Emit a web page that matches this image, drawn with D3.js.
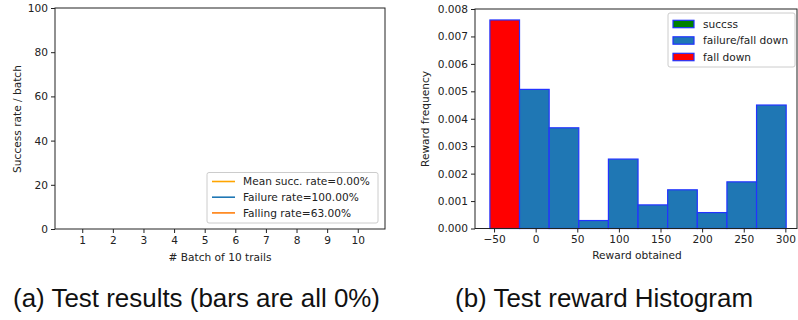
<!DOCTYPE html>
<html lang="en">
<head>
<meta charset="utf-8">
<style>
  body { margin: 0; background: #fff; }
  svg text { font-family: "DejaVu Sans", sans-serif; fill: #222; }
  .axis path, .axis line { stroke: #222; }
  .caption { font-family: "Liberation Sans", Arial, sans-serif; fill: #111; }
</style>
</head>
<body>
<svg width="798" height="320"></svg>
<script src="https://cdn.jsdelivr.net/npm/d3@7/dist/d3.min.js"></script>
<script>
// (a) test results: success rate per batch (all zero)
var batches = [1, 2, 3, 4, 5, 6, 7, 8, 9, 10];
var successRates = [0, 0, 0, 0, 0, 0, 0, 0, 0, 0];
var legendA = ["Mean succ. rate=0.00%", "Failure rate=100.00%", "Falling rate=63.00%"];
var legendAColors = ["orange", "#1f77b4", "#ff7f0e"];

// (b) reward histogram (density)
var binEdges = [-55, -19.4, 16.2, 51.8, 87.4, 123, 158.6, 194.2, 229.8, 265.4, 301];
var binFreq = [0.0076, 0.00507, 0.00367, 0.00029, 0.00253, 0.00086, 0.00141, 0.00058, 0.0017, 0.0045];
var binGroup = ["fall", "fail", "fail", "fail", "fail", "fail", "fail", "fail", "fail", "fail"];
var legendB = ["succss", "failure/fall down", "fall down"];
var legendBColors = ["green", "#1f77b4", "red"];
var xTicksB = [-50, 0, 50, 100, 150, 200, 250, 300];

var svg = d3.select("svg");
var fs = 10.6;

// ---------- panel (a) ----------
var xa = d3.scaleLinear().domain([0.11, 10.89]).range([55, 385]);
var ya = d3.scaleLinear().domain([0, 100]).range([229, 8]);
var ga = svg.append("g");

ga.selectAll(".bar").data(successRates).enter().append("rect")
    .attr("class", "bar")
    .attr("x", function (d, i) { return xa(batches[i] - 0.4); })
    .attr("width", xa(1.8) - xa(1))
    .attr("y", function (d) { return ya(d); })
    .attr("height", function (d) { return ya(0) - ya(d); })
    .attr("fill", "#1f77b4");

ga.append("g").attr("class", "axis").attr("transform", "translate(0,229)")
    .call(d3.axisBottom(xa).tickValues(batches).tickSize(4).tickPadding(3))
    .call(function (g) { g.select(".domain").remove(); })
    .selectAll("text").style("font-size", fs + "px");
ga.append("g").attr("class", "axis").attr("transform", "translate(55,0)")
    .call(d3.axisLeft(ya).tickValues([0, 20, 40, 60, 80, 100]).tickSize(4).tickPadding(3))
    .call(function (g) { g.select(".domain").remove(); })
    .selectAll("text").style("font-size", fs + "px");
ga.append("rect").attr("x", 55).attr("y", 8).attr("width", 330).attr("height", 221)
    .attr("fill", "none").attr("stroke", "#222").attr("stroke-width", 1);

ga.append("text").attr("x", 220).attr("y", 261).attr("text-anchor", "middle")
    .style("font-size", fs + "px").text("# Batch of 10 trails");
ga.append("text").attr("transform", "translate(21,119) rotate(-90)").attr("text-anchor", "middle")
    .style("font-size", fs + "px").text("Success rate / batch");

var la = ga.append("g");
la.append("rect").attr("x", 207).attr("y", 172.5).attr("width", 171).attr("height", 50.5)
    .attr("rx", 2).attr("fill", "#fff").attr("fill-opacity", 0.8).attr("stroke", "#ccc");
legendA.forEach(function (t, i) {
    var y = 181.5 + i * 15.7;
    la.append("line").attr("x1", 212).attr("x2", 235).attr("y1", y).attr("y2", y)
        .attr("stroke", legendAColors[i]).attr("stroke-width", 1.6);
    la.append("text").attr("x", 243).attr("y", y + 3.8).style("font-size", fs + "px").text(t);
});

// ---------- panel (b) ----------
var xb = d3.scaleLinear().domain([-72.9, 314]).range([475, 797]);
var yb = d3.scaleLinear().domain([0, 0.008]).range([228.5, 9]);
var gb = svg.append("g");

gb.selectAll(".hbar").data(binFreq).enter().append("rect")
    .attr("class", "hbar")
    .attr("x", function (d, i) { return xb(binEdges[i]); })
    .attr("width", function (d, i) { return xb(binEdges[i + 1]) - xb(binEdges[i]); })
    .attr("y", function (d) { return yb(d); })
    .attr("height", function (d) { return yb(0) - yb(d); })
    .attr("fill", function (d, i) { return binGroup[i] === "fall" ? "red" : "#1f77b4"; })
    .attr("stroke", "#2233ff").attr("stroke-width", 1.2);

gb.append("g").attr("class", "axis").attr("transform", "translate(0,228.5)")
    .call(d3.axisBottom(xb).tickValues(xTicksB).tickSize(4).tickPadding(3)
        .tickFormat(function (d) { return d < 0 ? "\u2212" + Math.abs(d) : d; }))
    .call(function (g) { g.select(".domain").remove(); })
    .selectAll("text").style("font-size", fs + "px");
gb.append("g").attr("class", "axis").attr("transform", "translate(475,0)")
    .call(d3.axisLeft(yb).ticks(8).tickFormat(d3.format(".3f")).tickSize(4).tickPadding(3))
    .call(function (g) { g.select(".domain").remove(); })
    .selectAll("text").style("font-size", fs + "px");
gb.append("rect").attr("x", 475).attr("y", 9).attr("width", 322).attr("height", 219.5)
    .attr("fill", "none").attr("stroke", "#222").attr("stroke-width", 1);

gb.append("text").attr("x", 637).attr("y", 259).attr("text-anchor", "middle")
    .style("font-size", fs + "px").text("Reward obtained");
gb.append("text").attr("transform", "translate(429,119) rotate(-90)").attr("text-anchor", "middle")
    .style("font-size", fs + "px").text("Reward frequency");

var lb = gb.append("g");
lb.append("rect").attr("x", 668).attr("y", 13).attr("width", 127).attr("height", 54)
    .attr("rx", 2).attr("fill", "#fff").attr("fill-opacity", 0.8).attr("stroke", "#ccc");
legendB.forEach(function (t, i) {
    var y = 24 + i * 16.5;
    lb.append("rect").attr("x", 673).attr("y", y - 3.7).attr("width", 21).attr("height", 7.4)
        .attr("fill", legendBColors[i]).attr("stroke", "#2233ff").attr("stroke-width", 1.2);
    lb.append("text").attr("x", 703).attr("y", y + 3.8).style("font-size", fs + "px").text(t);
});

// ---------- captions ----------
svg.append("text").attr("class", "caption").attr("x", 13).attr("y", 307)
    .attr("textLength", 367).attr("lengthAdjust", "spacingAndGlyphs")
    .style("font-size", "25px").text("(a) Test results (bars are all 0%)");
svg.append("text").attr("class", "caption").attr("x", 455).attr("y", 307)
    .attr("textLength", 298).attr("lengthAdjust", "spacingAndGlyphs")
    .style("font-size", "25px").text("(b) Test reward Histogram");
</script>
</body>
</html>
